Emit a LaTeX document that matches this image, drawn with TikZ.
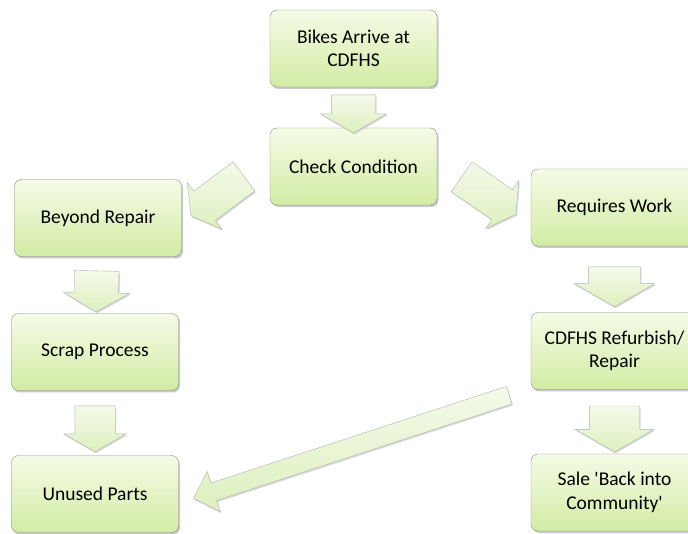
\documentclass[tikz,border=0pt]{standalone}
\usepackage{fontspec}
\setmainfont{Carlito}
\usepackage{tikz}
\usetikzlibrary{shapes.arrows, shadows, calc}
\definecolor{boxtop}{HTML}{F5FBE6}
\definecolor{boxbot}{HTML}{D2ECA4}
\definecolor{arrowtop}{HTML}{F4FAEA}
\definecolor{arrowbot}{HTML}{DDF0BE}
\tikzstyle{stage} = [rectangle, rounded corners=7pt, minimum width=167pt, minimum height=77pt, align=center, draw=black!45, top color=boxtop, bottom color=boxbot, font=\fontsize{19.5}{23.5}\selectfont, drop shadow={shadow xshift=1.5pt, shadow yshift=-2pt, fill=black!35, opacity=0.6}]
\tikzstyle{fat} = [single arrow, draw=black!30, top color=arrowtop, bottom color=arrowbot, inner xsep=0pt, inner ysep=22pt, minimum height=38pt, single arrow head extend=11pt, single arrow tip angle=120, sloped, allow upside down, drop shadow={shadow xshift=1pt, shadow yshift=-1.5pt, fill=black!25, opacity=0.6}]

\begin{document}
\begin{tikzpicture}[x=1pt, y=-1pt]
        \clip (0,0) rectangle (688,534);
        \fill[white] (0,0) rectangle (688,534);

        \node (bikes-arrive) [stage] at (353.5,48.5) {Bikes Arrive at\\CDFHS};
        \node (check-condition) [stage] at (353.5,166.5) {Check Condition};
        \node (beyond-repair) [stage] at (98,218) {Beyond Repair};
        \node (scrap-process) [stage] at (95,352) {Scrap Process};
        \node (unused-parts) [stage] at (95,494) {Unused Parts};
        \node (requires-work) [stage] at (614.5,207.5) {Requires Work};
        \node (refurbish) [stage] at (614.5,351) {CDFHS Refurbish/\\Repair};
        \node (sale) [stage] at (614.5,492.5) {Sale \textquotesingle Back into\\Community\textquotesingle};

        \path (bikes-arrive) -- node[fat] {} (check-condition);
        \path ($(check-condition.west)+(-20,5.5)$) -- node[fat, minimum height=66pt, inner ysep=18pt] {} ($(beyond-repair.east)+(12,-4)$);
        \path ($(check-condition.east)+(19,6.5)$) -- node[fat, minimum height=66pt, inner ysep=18pt] {} ($(requires-work.west)+(-18,4.5)$);
        \path (beyond-repair) -- node[fat, minimum height=41pt] {} (scrap-process);
        \path (scrap-process) -- node[fat, minimum height=46pt, inner ysep=20pt] {} (unused-parts);
        \path (requires-work) -- node[fat, minimum height=40pt, inner ysep=26pt, single arrow head extend=14pt] {} (refurbish);
        \path (refurbish) -- node[fat, minimum height=46pt, inner ysep=25pt, single arrow head extend=14pt] {} (sale);
        \path ($(refurbish.south west)+(-17,4)$) -- node[fat, minimum height=332pt, inner ysep=9pt, single arrow head extend=12pt, single arrow tip angle=90] {} ($(unused-parts.east)+(19,3)$);
    \end{tikzpicture}
\end{document}
